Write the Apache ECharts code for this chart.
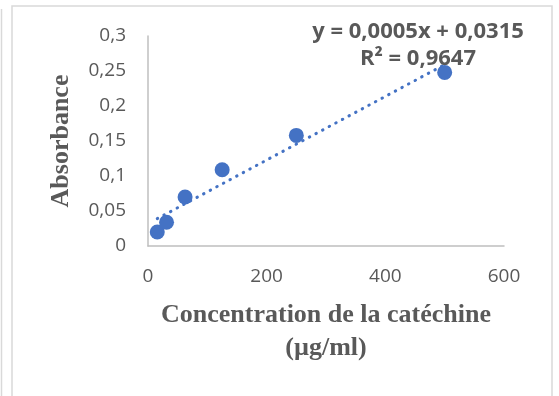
<!DOCTYPE html>
<html>
<head>
<meta charset="utf-8">
<script src="https://cdn.jsdelivr.net/npm/echarts@6/dist/echarts.min.js"></script>
<style>
  html, body { margin:0; padding:0; background:#fff; }
  #chart { width:559px; height:396px; }
</style>
</head>
<body>
<div id="chart"></div>
<script>
// concentrations (µg/ml) and measured absorbances
const concentrations = [15.625, 31.25, 62.5, 125, 250, 500];
const absorbances = [0.020, 0.034, 0.070, 0.109, 0.158, 0.248];
const yTicks = [0, 0.05, 0.1, 0.15, 0.2, 0.25, 0.3];
const xTicks = [0, 200, 400, 600];
const equationLines = ['y = 0,0005x + 0,0315', 'R² = 0,9647'];

// least squares line, drawn between the smallest and largest x like Excel does
let n = concentrations.length;
let mx = concentrations.reduce((a,b)=>a+b,0)/n;
let my = absorbances.reduce((a,b)=>a+b,0)/n;
let sxy = 0, sxx = 0;
concentrations.forEach((x,i)=>{
    sxy += (x-mx)*(absorbances[i]-my);
    sxx += (x-mx)*(x-mx);
});
let slope = sxy/sxx;
let intercept = my - slope*mx;
let xMin = Math.min(...concentrations), xMax = Math.max(...concentrations);
let trend = [[xMin, intercept + slope*xMin], [xMax, intercept + slope*xMax]];

const comma = v => String(v).replace('.', ',');
const grey = '#595959';
const blue = '#4472c4';

let myChart = echarts.init(document.getElementById('chart'));
let option = {
    animation:false,
    grid:{ left:148, top:36, right:55, bottom:150 },
    xAxis:{
        type:'value',
        min:xTicks[0],
        max:xTicks[xTicks.length-1],
        interval:200,
        name:'Concentration de la catéchine\n(µg/ml)',
        nameLocation:'middle',
        nameGap:53,
        nameTextStyle:{ fontFamily:'Liberation Serif', fontWeight:'bold', fontSize:26, color:grey, lineHeight:33 },
        axisLine:{ lineStyle:{ color:'#bfbfbf', width:1.5 } },
        axisTick:{ show:false },
        splitLine:{ show:false },
        axisLabel:{ margin:21, fontFamily:'Open Sans', fontSize:19, color:grey, formatter:comma }
    },
    yAxis:{
        type:'value',
        min:yTicks[0],
        max:yTicks[yTicks.length-1],
        interval:0.05,
        name:'Absorbance',
        nameLocation:'middle',
        nameGap:74,
        nameTextStyle:{ fontFamily:'Liberation Serif', fontWeight:'bold', fontSize:26, color:grey },
        axisLine:{ show:true, lineStyle:{ color:'#bfbfbf', width:1.5 } },
        axisTick:{ show:false },
        splitLine:{ show:false },
        axisLabel:{ margin:22, fontFamily:'Open Sans', fontSize:19, color:grey, formatter:comma }
    },
    graphic:[
        { type:'polyline', shape:{ points:[[1.5,9],[1.5,396]] }, style:{ stroke:'#d9d9d9', lineWidth:1.5, fill:null } },
        { type:'polyline', shape:{ points:[[12,396],[12,6],[552,6],[552,396]] }, style:{ stroke:'#d9d9d9', lineWidth:1.5, fill:null } },
        {
            // equation label, centred above the last point
            type:'text',
            x:418, y:45,
            style:{ text:equationLines.join('\n'), fill:grey, font:'bold 22px "Open Sans"', align:'center', verticalAlign:'middle', lineHeight:27 },
            z:10
        }
    ],
    series:[
        {
            type:'line',
            data:trend,
            symbol:'none',
            lineStyle:{ color:blue, width:3, type:[0.5,7], cap:'round' },
            z:1
        },
        {
            type:'scatter',
            data:concentrations.map((x,i)=>[x, absorbances[i]]),
            symbolSize:15,
            itemStyle:{ color:blue, opacity:1 },
            z:2
        }
    ]
};
myChart.setOption(option);
</script>
</body>
</html>
